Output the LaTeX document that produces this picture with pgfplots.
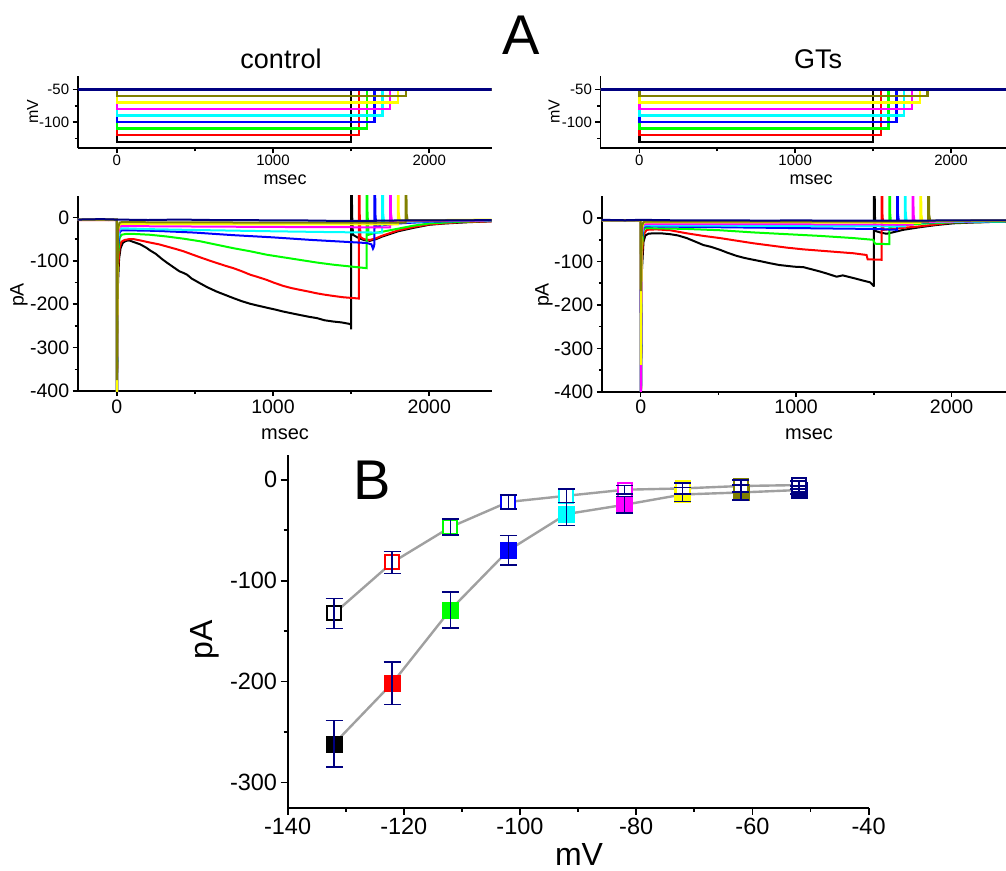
\documentclass[border=0pt]{standalone}
\usepackage{fontspec}
\setmainfont{Liberation Sans}
\usepackage{pgfplots}
\usepackage{pgfplotstable}
\pgfplotsset{compat=1.18}

\definecolor{cK}{RGB}{0,0,0}
\definecolor{cR}{RGB}{255,0,0}
\definecolor{cG}{RGB}{0,255,0}
\definecolor{cB}{RGB}{0,0,255}
\definecolor{cC}{RGB}{0,255,255}
\definecolor{cM}{RGB}{255,0,255}
\definecolor{cY}{RGB}{255,255,0}
\definecolor{cO}{RGB}{128,128,0}
\definecolor{cN}{RGB}{0,0,128}
\definecolor{cGray}{RGB}{160,160,160}

\pgfplotsset{
  fig/.style={scale only axis, axis lines=left, axis line style={-,line width=1.8pt},
    tick align=outside, tick style={line width=1.6pt,black},
    major tick length=5pt, minor tick length=3pt,
    /pgf/number format/assume math mode=true, /pgf/number format/1000 sep={},
    xmin=-250, xmax=2400, xtick={0,1000,2000}, minor xtick={500,1500}},
  vfig/.style={fig, ymin=-140, ymax=-29, ytick={-100,-50}, minor ytick={-125,-75},
    tick label style={font=\fontsize{15}{18}\selectfont},
    xticklabel style={yshift=2pt}, height=72.6pt},
  ifig/.style={fig, ymin=-400, ymax=50, ytick={-400,-300,...,0}, minor ytick={-350,-250,...,-50},
    tick label style={font=\fontsize{19.5}{23}\selectfont}, height=195.3pt},
  vt/.style={line width=2.4pt},
  it/.style={line width=2pt},
  ebar/.style={draw=none, mark=none, forget plot, error bars/.cd, y dir=both, y explicit,
    error bar style={draw=cN, line width=1.5pt},
    error mark options={rotate=90, draw=cN, line width=1.6pt, mark size=8.5pt}},
}

% B panel: peak current vs. step potential
\pgfplotstableread{
x y e c
-132 -261.6 23 K
-122 -201.7 21 R
-112 -129 18 G
-102 -70 14.7 B
-92 -34 11.3 C
-82 -24.8 8 M
-72 -14.6 7 Y
-62 -12.6 7.5 O
-52 -10.2 4 N
}\ctrl
\pgfplotstableread{
x y e c
-132 -132.5 15 K
-122 -82 11 R
-112 -47 8 G
-102 -22 7 B
-92 -15.9 6.5 C
-82 -9.9 4 M
-72 -8.6 5.5 Y
-62 -6.2 6 O
-52 -5.3 4 N
}\gts

\begin{document}
\begin{tikzpicture}[x=1pt,y=1pt]

% ---------- control, voltage protocol ----------
\begin{axis}[vfig, at={(77.7pt,-148.3pt)}, anchor=south west, width=414pt]
\addplot[vt,cK] coordinates {(-250,-50)(0,-50)(0,-130)(1500,-130)(1500,-50)(2400,-50)};
\addplot[vt,cR] coordinates {(-250,-50)(0,-50)(0,-120)(1550,-120)(1550,-50)(2400,-50)};
\addplot[vt,cG] coordinates {(-250,-50)(0,-50)(0,-110)(1600,-110)(1600,-50)(2400,-50)};
\addplot[vt,cB] coordinates {(-250,-50)(0,-50)(0,-100)(1650,-100)(1650,-50)(2400,-50)};
\addplot[vt,cC] coordinates {(-250,-50)(0,-50)(0,-90)(1700,-90)(1700,-50)(2400,-50)};
\addplot[vt,cM] coordinates {(-250,-50)(0,-50)(0,-80)(1750,-80)(1750,-50)(2400,-50)};
\addplot[vt,cY] coordinates {(-250,-50)(0,-50)(0,-70)(1800,-70)(1800,-50)(2400,-50)};
\addplot[vt,cO] coordinates {(-250,-50)(0,-50)(0,-60)(1850,-60)(1850,-50)(2400,-50)};
\addplot[vt,cN] coordinates {(-250,-50)(2400,-50)};
\end{axis}

% ---------- GTs, voltage protocol ----------
\begin{axis}[vfig, at={(600.4pt,-148.3pt)}, anchor=south west, width=412.9pt]
\addplot[vt,cK] coordinates {(-250,-50)(0,-50)(0,-130)(1500,-130)(1500,-50)(2400,-50)};
\addplot[vt,cR] coordinates {(-250,-50)(0,-50)(0,-120)(1550,-120)(1550,-50)(2400,-50)};
\addplot[vt,cG] coordinates {(-250,-50)(0,-50)(0,-110)(1600,-110)(1600,-50)(2400,-50)};
\addplot[vt,cB] coordinates {(-250,-50)(0,-50)(0,-100)(1650,-100)(1650,-50)(2400,-50)};
\addplot[vt,cC] coordinates {(-250,-50)(0,-50)(0,-90)(1700,-90)(1700,-50)(2400,-50)};
\addplot[vt,cM] coordinates {(-250,-50)(0,-50)(0,-80)(1750,-80)(1750,-50)(2400,-50)};
\addplot[vt,cY] coordinates {(-250,-50)(0,-50)(0,-70)(1800,-70)(1800,-50)(2400,-50)};
\addplot[vt,cO] coordinates {(-250,-50)(0,-50)(0,-60)(1850,-60)(1850,-50)(2400,-50)};
\addplot[vt,cN] coordinates {(-250,-50)(2400,-50)};
\end{axis}

% ---------- control, currents ----------
\begin{axis}[ifig, at={(77.7pt,-391pt)}, anchor=south west, width=414pt]
\addplot[it,cK] coordinates {(-250,-6)(-150,-5)(-50,-6)(0,-5)(1,-450)(8,-150)(15,-95)(25,-70)(40,-58)(60,-54)(80,-53)(110,-57)(150,-62)(190,-70)(213,-76)(250,-84)(290,-96)(320,-104)(360,-114)(400,-124)(427,-128)(450,-132)(480,-141)(534,-152)(580,-161)(640,-171)(690,-178)(747,-186)(800,-193)(854,-199)(900,-203)(960,-208)(1010,-212)(1067,-217)(1120,-221)(1174,-225)(1230,-229)(1281,-232)(1330,-237)(1387,-240)(1440,-242)(1499,-246)(1500,-258)(1501,400)(1506,10)(1512,-40)(1540,-46)(1580,-52)(1620,-54)(1660,-50)(1700,-44)(1750,-38)(1800,-32)(1900,-24)(2000,-17)(2100,-14)(2250,-11)(2400,-9)};
\addplot[it,cR] coordinates {(-250,-6)(0,-6)(1,-450)(8,-120)(18,-70)(30,-56)(50,-52)(80,-50)(107,-50)(150,-53)(213,-58)(270,-62)(320,-67)(380,-73)(427,-78)(480,-85)(534,-92)(590,-99)(640,-105)(700,-112)(747,-117)(800,-124)(854,-132)(900,-137)(960,-144)(1010,-151)(1067,-158)(1120,-163)(1174,-167)(1230,-171)(1281,-175)(1330,-178)(1387,-181)(1450,-184)(1520,-186)(1549,-187)(1550,400)(1555,10)(1560,-45)(1580,-50)(1620,-52)(1660,-48)(1700,-42)(1750,-36)(1800,-30)(1900,-22)(2000,-16)(2200,-11)(2400,-9)};
\addplot[it,cG] coordinates {(-250,-5)(0,-5)(1,-450)(8,-90)(18,-48)(30,-40)(60,-38)(107,-38)(213,-40)(320,-44)(427,-49)(534,-55)(640,-63)(747,-71)(854,-78)(960,-86)(1067,-92)(1174,-98)(1281,-104)(1387,-109)(1494,-113)(1599,-117)(1600,400)(1605,10)(1612,-40)(1650,-36)(1700,-33)(1800,-26)(1900,-19)(2000,-14)(2200,-10)(2400,-8)};
\addplot[it,cB] coordinates {(-250,-5)(0,-5)(1,-450)(8,-70)(18,-35)(30,-30)(107,-30)(250,-31)(500,-35)(750,-41)(1000,-46)(1250,-52)(1500,-57)(1600,-59)(1630,-62)(1640,-72)(1645,-68)(1649,-62)(1650,400)(1655,10)(1662,-22)(1700,-18)(1800,-14)(2000,-10)(2400,-7)};
\addplot[it,cC] coordinates {(-250,-5)(0,-5)(1,-450)(8,-55)(18,-28)(30,-25)(200,-27)(500,-29)(1000,-32)(1400,-34)(1699,-35)(1700,400)(1705,10)(1712,-15)(1800,-11)(2000,-9)(2400,-7)};
\addplot[it,cM] coordinates {(-250,-5)(0,-5)(1,-450)(8,-40)(18,-21)(30,-20)(500,-21)(1000,-22)(1749,-23)(1750,400)(1755,10)(1762,-10)(2000,-8)(2400,-7)};
\addplot[it,cY] coordinates {(-250,-5)(0,-5)(1,-450)(8,-30)(18,-16)(30,-15)(1000,-16)(1799,-16)(1800,400)(1805,10)(1812,-7)(2400,-5)};
\addplot[it,cO] coordinates {(-250,-5)(0,-5)(1,-375)(8,-25)(18,-12)(30,-11)(1000,-12)(1849,-12)(1850,400)(1855,10)(1862,-7)(2400,-6)};
\addplot[it,cN] coordinates {(-250,-5)(-100,-4)(0,-5)(200,-6)(400,-5)(600,-6)(800,-6)(1000,-7)(1200,-7)(1400,-8)(1600,-8)(1800,-7)(2000,-7)(2200,-7)(2400,-6)};
\end{axis}

% ---------- GTs, currents ----------
\begin{axis}[ifig, at={(601.8pt,-391.7pt)}, anchor=south west, width=412pt]
\addplot[it,cK] coordinates {(-250,-6)(0,-6)(1,-450)(8,-120)(18,-55)(30,-40)(50,-36)(81,-35)(130,-35)(189,-37)(240,-40)(296,-46)(350,-54)(403,-62)(450,-66)(510,-73)(560,-80)(617,-87)(670,-92)(725,-96)(780,-100)(832,-104)(890,-108)(939,-110)(990,-112)(1046,-113)(1100,-118)(1153,-123)(1200,-128)(1260,-135)(1300,-132)(1368,-138)(1420,-143)(1475,-148)(1499,-156)(1500,-158)(1501,400)(1506,10)(1512,-30)(1550,-34)(1582,-36)(1620,-33)(1689,-27)(1796,-21)(1900,-16)(2011,-12)(2150,-10)(2332,-8)(2400,-8)};
\addplot[it,cR] coordinates {(-250,-6)(0,-6)(1,-450)(8,-90)(18,-38)(39,-27)(100,-26)(189,-28)(296,-35)(403,-41)(510,-46)(617,-52)(725,-58)(832,-63)(939,-68)(1046,-72)(1153,-75)(1260,-78)(1368,-81)(1453,-85)(1460,-95)(1549,-96)(1550,400)(1555,10)(1562,-27)(1620,-25)(1700,-22)(1796,-19)(2011,-10)(2400,-8)};
\addplot[it,cG] coordinates {(-250,-5)(0,-5)(1,-450)(8,-70)(18,-28)(30,-23)(296,-25)(510,-28)(725,-33)(939,-37)(1153,-41)(1368,-46)(1496,-50)(1507,-59)(1599,-60)(1600,400)(1605,10)(1612,-20)(1700,-16)(1800,-13)(2000,-10)(2400,-8)};
\addplot[it,cB] coordinates {(-250,-5)(0,-5)(1,-450)(8,-50)(18,-22)(30,-19)(500,-21)(1000,-23)(1500,-25)(1649,-27)(1650,400)(1655,10)(1662,-12)(1800,-10)(2400,-7)};
\addplot[it,cC] coordinates {(-250,-5)(0,-5)(1,-450)(8,-40)(18,-18)(30,-17)(1000,-18)(1699,-19)(1700,400)(1705,10)(1712,-10)(2400,-7)};
\addplot[it,cM] coordinates {(-250,-5)(0,-5)(1,-450)(8,-35)(18,-15)(30,-14)(1000,-14)(1749,-15)(1750,400)(1755,10)(1762,-9)(2400,-6)};
\addplot[it,cY] coordinates {(-250,-5)(0,-5)(1,-338)(8,-25)(18,-11)(30,-10)(1000,-10)(1799,-11)(1800,400)(1805,10)(1812,-7)(2400,-6)};
\addplot[it,cO] coordinates {(-250,-5)(0,-5)(1,-168)(8,-18)(18,-9)(30,-8)(1000,-8)(1849,-8)(1850,400)(1855,10)(1862,-6)(2400,-5)};
\addplot[it,cN] coordinates {(-250,-4)(-100,-5)(0,-4)(200,-5)(400,-5)(600,-5)(800,-6)(1000,-5)(1200,-6)(1400,-6)(1600,-6)(1800,-6)(2000,-5)(2200,-5)(2400,-5)};
\end{axis}

% ---------- B: I-V ----------
\begin{axis}[scale only axis, at={(287.6pt,-807.7pt)}, anchor=south west, width=581pt, height=353.2pt,
  axis lines=left, axis line style={-,line width=2pt},
  tick align=outside, tick style={line width=1.8pt,black},
  major tick length=7pt, minor tick length=4pt,
  xmin=-140, xmax=-40, ymin=-325, ymax=25,
  xtick={-140,-120,...,-40}, minor x tick num=1,
  ytick={-300,-200,-100,0}, minor y tick num=1,
  clip marker paths=true,
  /pgf/number format/assume math mode=true,
  tick label style={font=\fontsize{23.5}{28}\selectfont}]
\addplot[cGray, line width=2.4pt] table[x=x,y=y] {\ctrl};
\addplot[cGray, line width=2.4pt] table[x=x,y=y] {\gts};
\addplot[scatter, only marks, scatter src=explicit symbolic, mark=square*, mark size=8pt,
  scatter/classes={K={draw=cK,fill=cK}, R={draw=cR,fill=cR}, G={draw=cG,fill=cG},
    B={draw=cB,fill=cB}, C={draw=cC,fill=cC}, M={draw=cM,fill=cM},
    Y={draw=cY,fill=cY}, O={draw=cO,fill=cO}, N={draw=cN,fill=cN}}]
  table[x=x,y=y,meta=c] {\ctrl};
\addplot[scatter, only marks, scatter src=explicit symbolic, mark=square*, mark size=7pt,
  scatter/classes={K={draw=cK,fill=white,line width=2pt}, R={draw=cR,fill=white,line width=2pt},
    G={draw=cG,fill=white,line width=2pt}, B={draw=cB,fill=white,line width=2pt},
    C={draw=cC,fill=white,line width=2pt}, M={draw=cM,fill=white,line width=2pt},
    Y={draw=cY,fill=white,line width=2pt}, O={draw=cO,fill=white,line width=2pt},
    N={draw=cN,fill=white,line width=2pt}}]
  table[x=x,y=y,meta=c] {\gts};
\addplot[ebar] table[x=x,y=y,y error=e] {\ctrl};
\addplot[ebar] table[x=x,y=y,y error=e] {\gts};
\end{axis}

% ---------- labels ----------
\node[font=\fontsize{56}{60}\selectfont] at (521,-35) {A};
\node[font=\fontsize{27}{30}\selectfont, anchor=base] at (281,-68.3) {control};
\node[font=\fontsize{27}{30}\selectfont, anchor=base] at (818,-68.3) {GTs};
\node[font=\fontsize{16}{19}\selectfont, rotate=90] at (32.5,-111.7) {mV};
\node[font=\fontsize{16}{19}\selectfont, rotate=90] at (554,-111.7) {mV};
\node[font=\fontsize{18}{21}\selectfont] at (285,-180) {msec};
\node[font=\fontsize{18}{21}\selectfont] at (811,-180) {msec};
\node[font=\fontsize{19.5}{23}\selectfont, rotate=90] at (19,-295) {pA};
\node[font=\fontsize{19.5}{23}\selectfont, rotate=90] at (544,-295) {pA};
\node[font=\fontsize{20}{24}\selectfont] at (285,-434) {msec};
\node[font=\fontsize{20}{24}\selectfont] at (809,-434) {msec};
\node[font=\fontsize{56}{60}\selectfont] at (371.7,-480) {B};
\node[font=\fontsize{32}{36}\selectfont, rotate=90] at (205,-640) {pA};
\node[font=\fontsize{32}{36}\selectfont] at (579,-854) {mV};

\pgfresetboundingbox
\path[use as bounding box] (0,0) rectangle (1006,-870);
\end{tikzpicture}
\end{document}
